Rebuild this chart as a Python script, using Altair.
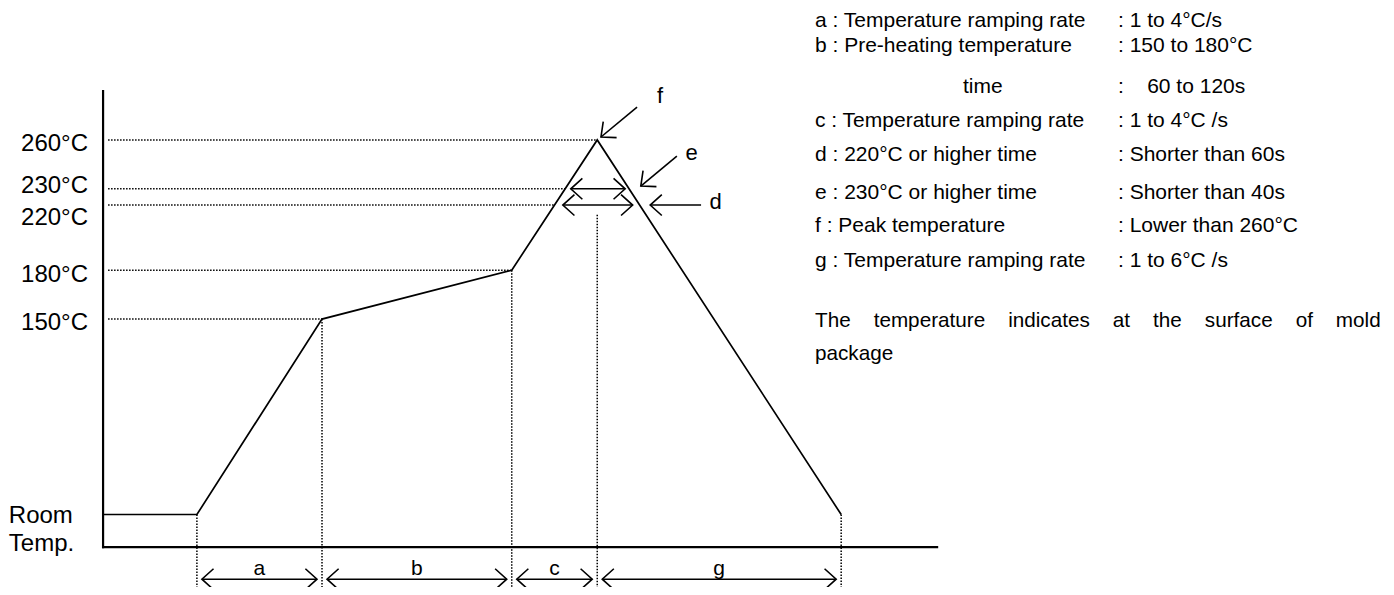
import math
import altair as alt
import pandas as pd

# ---------------- data ----------------
# reflow profile (time in s, temperature in degC)
prof_t = [0, 45, 105, 196, 237, 354]
prof_T = [30, 30, 150, 180, 260, 30]

# axis extents
axis_t_end = 400
axis_T_low = 10
axis_T_top = 290

# horizontal dotted guide lines
guide_T = [260, 230, 220, 180, 150]
guide_end_t = [237, 221.6, 216.5, 196, 105]
guide_label = ["260°C", "230°C", "220°C", "180°C", "150°C"]

# vertical dotted guide lines (phase boundaries)
vline_t = [45, 105, 196, 237, 354]
vline_top_T = [30, 150, 180, 214, 30]

# phases below the time axis
phase_names = ["a", "b", "c", "g"]

# double arrows e (230 C) and d (220 C)
dbl_name = ["e", "d"]
dbl_T = [230, 220]
dbl_start = [224.3, 220.5]
dbl_end = [250.4, 254.0]

# pointer arrows f, e, d
ptr_name = ["f", "e", "d"]
ptr_from_t = [256.1, 275.2, 286.8]
ptr_from_T = [280.2, 250.1, 220.0]
ptr_to_t = [238.8, 257.9, 262.4]
ptr_to_T = [261.8, 231.7, 220.0]
ptr_label_t = [267.1, 282.3, 293.8]
ptr_label_T = [282.6, 247.6, 217.5]

room_label = "Room\nTemp."

spec_label = [
    "a : Temperature ramping rate",
    "b : Pre-heating temperature",
    "time",
    "c : Temperature ramping rate",
    "d : 220°C or higher time",
    "e : 230°C or higher time",
    "f : Peak temperature",
    "g : Temperature ramping rate",
]
spec_value = [
    ": 1 to 4°C/s",
    ": 150 to 180°C",
    ":    60 to 120s",
    ": 1 to 4°C /s",
    ": Shorter than 60s",
    ": Shorter than 40s",
    ": Lower than 260°C",
    ": 1 to 6°C /s",
]
note_words = ["The", "temperature", "indicates", "at", "the", "surface", "of", "mold"]
note_last = "package"

# ---------------- layout ----------------
W, H = 1378, 579
X_DOM = [-45.6, 615.3]
Y_DOM = [-14.5, 341.0]
KX = W / (X_DOM[1] - X_DOM[0])
KY = H / (Y_DOM[1] - Y_DOM[0])
FONT = "Liberation Sans"
NB = "\u00a0"
ARROW_T = -9.7       # level of the phase arrows under the axis
PHASE_LABEL_T = -7.2
GAP = 2.4            # gap between arrow tips and dotted lines
GUIDE_START = 2.4
LABEL_T = -7.2
HEAD = "M-1,-0.9L0,0L-1,0.9"
TABLE_X_LABEL = 807
TABLE_X_SUB = 955     # indented sub-line ("time")
TABLE_X_VALUE = 1110
TABLE_ROW_Y = [13, 38, 79, 113, 147, 185, 218, 253]
TABLE_FS = 21
NOTE_FS = 20.7

xs = alt.Scale(domain=X_DOM, nice=False, zero=False)
ys = alt.Scale(domain=Y_DOM, nice=False, zero=False)


def X(f):
    return alt.X(f, type="quantitative", scale=xs, axis=None)


def Y(f):
    return alt.Y(f, type="quantitative", scale=ys, axis=None)


# axes
axes_df = pd.DataFrame({
    "x": [0, 0], "x2": [0, axis_t_end],
    "y": [axis_T_low, axis_T_low], "y2": [axis_T_top, axis_T_low],
})
axes = alt.Chart(axes_df).mark_rule(color="black", strokeWidth=2.2, strokeCap="square").encode(
    x=X("x"), x2="x2:Q", y=Y("y"), y2="y2:Q")

# profile
prof_df = pd.DataFrame({"t": prof_t, "T": prof_T, "i": list(range(len(prof_t)))})
profile = alt.Chart(prof_df).mark_line(color="black", strokeWidth=1.7).encode(
    x=X("t"), y=Y("T"), order="i:Q")

# dotted guides
hg_df = pd.DataFrame({"T": guide_T, "end": guide_end_t})
hg_df["start"] = GUIDE_START
hguides = alt.Chart(hg_df).mark_rule(color="black", strokeWidth=1.5, strokeDash=[1.5, 1.5]).encode(
    x=X("start"), x2="end:Q", y=Y("T"))
vg_df = pd.DataFrame({"t": vline_t, "top": vline_top_T})
vg_df["bottom"] = Y_DOM[0]
vguides = alt.Chart(vg_df).mark_rule(color="black", strokeWidth=1.5, strokeDash=[1.5, 1.5]).encode(
    x=X("t"), y=Y("top"), y2="bottom:Q")

# phase arrows
ph_start = [vline_t[i] + GAP for i in range(len(phase_names))]
ph_end = [vline_t[i + 1] - GAP for i in range(len(phase_names))]
ph_mid = [(vline_t[i] + vline_t[i + 1]) / 2 for i in range(len(phase_names))]
ph_df = pd.DataFrame({"name": phase_names, "s": ph_start, "e": ph_end, "mid": ph_mid})
ph_df["ya"] = ARROW_T
ph_df["yl"] = PHASE_LABEL_T
ph_shafts = alt.Chart(ph_df).mark_rule(color="black", strokeWidth=1.6).encode(
    x=X("s"), x2="e:Q", y=Y("ya"))
ph_labels = alt.Chart(ph_df).mark_text(font=FONT, fontSize=21, baseline="alphabetic", align="center",
                                       color="black").encode(
    x=X("mid"), y=Y("yl"), text="name:N")

# double arrows
dbl_df = pd.DataFrame({"name": dbl_name, "T": dbl_T, "s": dbl_start, "e": dbl_end})
dbl_shafts = alt.Chart(dbl_df).mark_rule(color="black", strokeWidth=1.6).encode(
    x=X("s"), x2="e:Q", y=Y("T"))

# pointer arrows
ptr_df = pd.DataFrame({"name": ptr_name, "t0": ptr_from_t, "T0": ptr_from_T,
                       "t1": ptr_to_t, "T1": ptr_to_T, "lt": ptr_label_t, "lT": ptr_label_T})
ptr_shafts = alt.Chart(ptr_df).mark_rule(color="black", strokeWidth=1.6).encode(
    x=X("t0"), y=Y("T0"), x2="t1:Q", y2="T1:Q")
ptr_labels = alt.Chart(ptr_df).mark_text(font=FONT, fontSize=22, baseline="alphabetic", align="center",
                                         color="black").encode(
    x=X("lt"), y=Y("lT"), text="name:N")

# arrow heads
heads = []
for s, e in zip(ph_start, ph_end):
    heads.append({"t": s, "T": ARROW_T, "ang": 180.0})
    heads.append({"t": e, "T": ARROW_T, "ang": 0.0})
for T, s, e in zip(dbl_T, dbl_start, dbl_end):
    heads.append({"t": s, "T": T, "ang": 180.0})
    heads.append({"t": e, "T": T, "ang": 0.0})
for t0, T0, t1, T1 in zip(ptr_from_t, ptr_from_T, ptr_to_t, ptr_to_T):
    dx = (t1 - t0) * KX
    dy = -(T1 - T0) * KY
    heads.append({"t": t1, "T": T1, "ang": math.degrees(math.atan2(dy, dx)) % 360})
heads_df = pd.DataFrame(heads)
arrow_heads = alt.Chart(heads_df).mark_point(shape=HEAD, filled=False, color="black", strokeWidth=1.6,
                                             size=540, opacity=1).encode(
    x=X("t"), y=Y("T"), angle=alt.Angle("ang:Q", scale=None))

# y labels
lab_df = pd.DataFrame({"T": guide_T, "label": guide_label})
lab_df["lx"] = LABEL_T


def ylab(values, dy):
    d = lab_df[lab_df["T"].isin(values)]
    return alt.Chart(d).mark_text(font=FONT, fontSize=24, align="right", baseline="middle",
                                  dy=dy, color="black").encode(
        x=X("lx"), y=Y("T"), text="label:N")


ylabels = [ylab([260, 150], 4), ylab([180], 5), ylab([230], -3), ylab([220], 13)]

room_df = pd.DataFrame({"T": [prof_T[0]], "label": [room_label]})
room_df["lx"] = X_DOM[0] + 0.4
room = alt.Chart(room_df).mark_text(
    font=FONT, fontSize=24, align="left", baseline="middle", dy=1, lineHeight=28,
    lineBreak="\n", color="black").encode(
    x=X("lx"), y=Y("T"), text="label:N")

# ---------------- specification table (text layout) ----------------
values_disp = [v.replace("    ", NB * 4) for v in spec_value]
table_layers = []
for i in range(len(spec_label)):
    row_df = pd.DataFrame({"label": [spec_label[i]], "value": [values_disp[i]]})
    yv = TABLE_ROW_Y[i]
    lx = TABLE_X_SUB if ":" not in spec_label[i] else TABLE_X_LABEL
    table_layers.append(alt.Chart(row_df).mark_text(
        font=FONT, fontSize=TABLE_FS, align="left", baseline="middle", color="black").encode(
        x=alt.value(lx), y=alt.value(yv), text="label:N"))
    table_layers.append(alt.Chart(row_df).mark_text(
        font=FONT, fontSize=TABLE_FS, align="left", baseline="middle", color="black").encode(
        x=alt.value(TABLE_X_VALUE), y=alt.value(yv), text="value:N"))

note_text = (NB * 4).join(note_words) + "\n" + note_last
note = alt.Chart(pd.DataFrame({"note": [note_text]})).mark_text(
    font=FONT, fontSize=NOTE_FS, align="left", baseline="middle", lineHeight=33, lineBreak="\n",
    color="black").encode(x=alt.value(TABLE_X_LABEL), y=alt.value(313), text="note:N")

chart = alt.layer(axes, hguides, vguides, profile, ph_shafts, dbl_shafts, ptr_shafts,
                  arrow_heads, ph_labels, ptr_labels, *ylabels, room, *table_layers, note).properties(
    width=W, height=H, padding=0, autosize=alt.AutoSizeParams(type="none"), background="white"
).configure_view(stroke=None)

chart.save("out.html", embed_options={"renderer": "svg", "actions": False})
